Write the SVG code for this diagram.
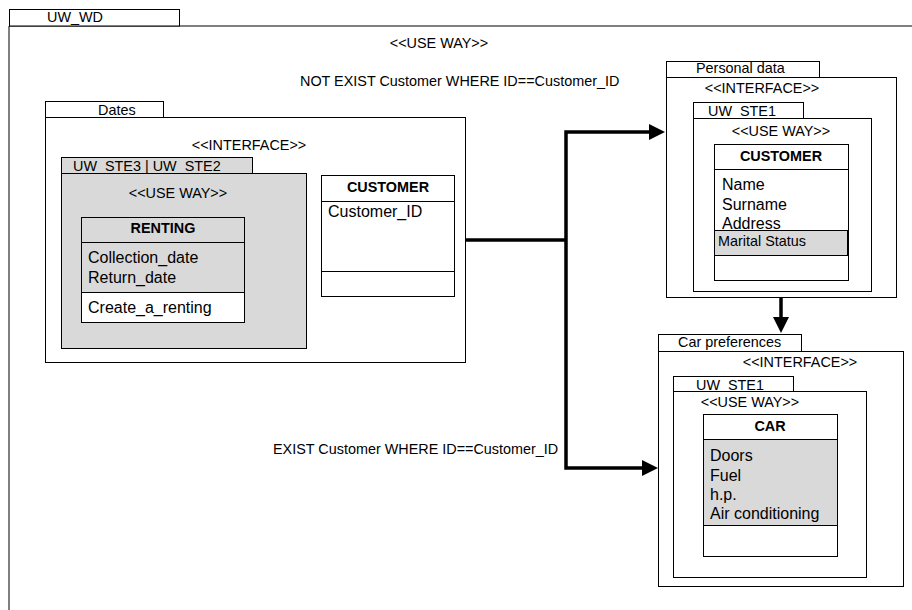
<svg xmlns="http://www.w3.org/2000/svg" width="912" height="610" viewBox="0 0 912 610">
<defs>
<style>
text{font-family:"Liberation Sans",Arial,sans-serif;fill:#000}
.s{font-size:14.4px}
.a{font-size:16px}
.b{font-size:14.4px;font-weight:bold}
.m{text-anchor:middle}
.box{fill:#fff;stroke:#000;stroke-width:1}
.g{fill:#d9d9d9;stroke:#000;stroke-width:1}
.ln{stroke:#000;stroke-width:1;fill:none}
.c{stroke:#000;stroke-width:3.5;fill:none}
</style>
<marker id="arr" markerUnits="userSpaceOnUse" markerWidth="16" markerHeight="16" refX="0" refY="8" orient="auto">
<path d="M0,0 L16,8 L0,16 z" fill="#000"/>
</marker>
</defs>
<rect width="912" height="610" fill="#fff"/>

<g id="uw_wd">
<path class="ln" d="M9,610 V26 H912" stroke-width="1.5"/>
<rect class="box" x="9.5" y="9.5" width="170" height="16.5"/>
<text class="s" x="47" y="22">UW_WD</text>
<text class="s m" x="439" y="48">&lt;&lt;USE WAY&gt;&gt;</text>
<text class="s" x="300" y="86">NOT EXIST Customer WHERE ID==Customer_ID</text>
<text class="s" x="273" y="454">EXIST Customer WHERE ID==Customer_ID</text>
</g>

<g id="dates">
<rect class="box" x="45.5" y="101.5" width="118" height="16"/>
<text class="s" x="98" y="115">Dates</text>
<rect class="box" x="45.5" y="117.5" width="420" height="245"/>
<text class="s m" x="249" y="150">&lt;&lt;INTERFACE&gt;&gt;</text>
</g>

<g id="uw_ste3">
<rect class="g" x="61.5" y="157.5" width="191" height="16"/>
<text class="s" x="73" y="171">UW_STE3 | UW_STE2</text>
<rect class="g" x="61.5" y="173.5" width="245" height="175"/>
<text class="s m" x="178" y="198">&lt;&lt;USE WAY&gt;&gt;</text>
</g>

<g id="renting">
<rect class="g" x="81.5" y="217.5" width="163" height="75"/>
<rect class="box" x="81.5" y="292.5" width="163" height="30"/>
<line class="ln" x1="81" y1="242.5" x2="245" y2="242.5"/>
<text class="b m" x="163" y="233">RENTING</text>
<text class="a" x="88" y="263">Collection_date</text>
<text class="a" x="88" y="283">Return_date</text>
<text class="a" x="88" y="313">Create_a_renting</text>
</g>

<g id="customer_ref">
<rect class="box" x="321.5" y="175.5" width="133" height="121"/>
<line class="ln" x1="321" y1="201.5" x2="455" y2="201.5"/>
<line class="ln" x1="321" y1="271.5" x2="455" y2="271.5"/>
<text class="b m" x="388" y="192">CUSTOMER</text>
<text class="a" x="328" y="217">Customer_ID</text>
</g>

<g id="personal_data">
<rect class="box" x="666.5" y="61.5" width="153" height="16"/>
<text class="s" x="696" y="73">Personal data</text>
<rect class="box" x="666.5" y="77.5" width="230" height="220"/>
<text class="s m" x="762" y="93">&lt;&lt;INTERFACE&gt;&gt;</text>
<rect class="box" x="693.5" y="102.5" width="110" height="16"/>
<text class="s" x="708" y="116">UW_STE1</text>
<rect class="box" x="693.5" y="118.5" width="178" height="173"/>
<text class="s m" x="781" y="136">&lt;&lt;USE WAY&gt;&gt;</text>
</g>

<g id="customer">
<rect class="box" x="714.5" y="144.5" width="134" height="136"/>
<line class="ln" x1="714" y1="169.5" x2="849" y2="169.5"/>
<text class="b m" x="781" y="161">CUSTOMER</text>
<text class="a" x="722" y="190">Name</text>
<text class="a" x="722" y="210">Surname</text>
<text class="a" x="722" y="229">Address</text>
<rect class="g" x="714.5" y="230.5" width="133" height="25"/>
<text class="s" x="718" y="246">Marital Status</text>
</g>

<g id="car_preferences">
<rect class="box" x="658.5" y="334.5" width="143" height="17"/>
<text class="s" x="678" y="347">Car preferences</text>
<rect class="box" x="658.5" y="351.5" width="245" height="235"/>
<text class="s m" x="800" y="367">&lt;&lt;INTERFACE&gt;&gt;</text>
<rect class="box" x="673.5" y="376.5" width="120" height="15"/>
<text class="s" x="696" y="390">UW_STE1</text>
<rect class="box" x="673.5" y="391.5" width="193" height="186"/>
<text class="s m" x="750" y="407">&lt;&lt;USE WAY&gt;&gt;</text>
</g>

<g id="car">
<rect class="box" x="703.5" y="414.5" width="134" height="142"/>
<rect class="g" x="703.5" y="439.5" width="134" height="86"/>
<text class="b m" x="770" y="431">CAR</text>
<text class="a" x="710" y="461">Doors</text>
<text class="a" x="710" y="481">Fuel</text>
<text class="a" x="710" y="500">h.p.</text>
<text class="a" x="710" y="519">Air conditioning</text>
</g>

<g id="connectors">
<path class="c" d="M465,240 H566"/>
<path class="c" d="M566,240 V132 H649" marker-end="url(#arr)"/>
<path class="c" d="M566,240 V468 H642" marker-end="url(#arr)"/>
<path class="c" d="M781,297 V317" marker-end="url(#arr)"/>
</g>
</svg>
